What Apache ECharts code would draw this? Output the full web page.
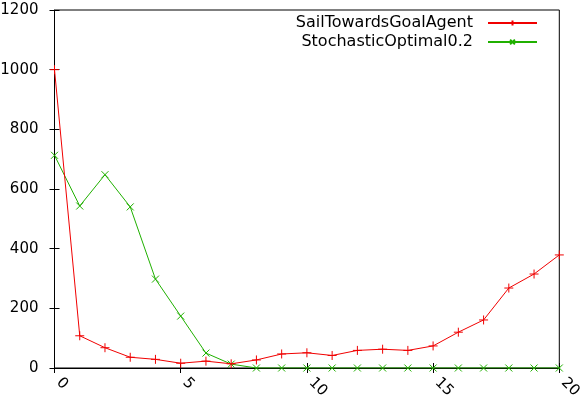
<!DOCTYPE html>
<html><head><meta charset="utf-8">
<script src="https://cdn.jsdelivr.net/npm/echarts@6/dist/echarts.min.js"></script>
<style>html,body{margin:0;padding:0;background:#fff}#c{width:581px;height:401px}</style>
</head><body><div id="c"></div>
<script>
const xValues = [0,1,2,3,4,5,6,7,8,9,10,11,12,13,14,15,16,17,18,19,20];
const sailTowardsGoalAgent = [1000,108,68,36,29,16,23,14,27,47,51,42,59,63,59,74,120,161,268,315,379];
const stochasticOptimal = [713,543,648,540,298,174,50,13,0,0,0,0,0,0,0,0,0,0,0,0,0];
const seriesNames = ['SailTowardsGoalAgent','StochasticOptimal0.2'];
const xTicks = [0,5,10,15,20];
const yTicks = [0,200,400,600,800,1000,1200];

const font = 'DejaVu Sans';
const red = '#f00000', green = '#20b000';
const pair = (ys) => xValues.map((x,i)=>[x, ys[i]]);
const plus = 'path://M0,-1L0,1M-1,0L1,0';
const cross = 'path://M-1,-1L1,1M-1,1L1,-1';

const chart = echarts.init(document.getElementById('c'));
const tickCommon = {inside:true, length:5, lineStyle:{color:'#000', width:1}};
const legendCommon = {right:43, padding:0, align:'right', itemWidth:49, itemHeight:6, itemGap:15,
  textStyle:{fontFamily:font, fontSize:16, color:'#000', padding:[0,10,0,0]}};
chart.setOption({
  animation:false,
  backgroundColor:'#fff',
  grid:{left:54.5, right:21.7, top:10, bottom:33, containLabel:false, outerBoundsMode:'none',
        show:true, borderColor:'#000', borderWidth:1, backgroundColor:'transparent'},
  legend:[
    Object.assign({data:[seriesNames[0]], top:15}, legendCommon),
    Object.assign({data:[seriesNames[1]], top:34}, legendCommon)
  ],
  xAxis:[
    {type:'value', min:0, max:20, interval:5, position:'bottom',
     axisLine:{show:true, lineStyle:{color:'#000'}}, axisTick:tickCommon, splitLine:{show:false},
     axisLabel:{rotate:-45, fontFamily:font, fontSize:15, color:'#000', margin:8, padding:[0,0,0,6],
       formatter:(v)=>String(v)}},
    {type:'value', min:0, max:20, interval:5, position:'top',
     axisLine:{show:false}, axisTick:tickCommon, splitLine:{show:false}, axisLabel:{show:false}}
  ],
  yAxis:[
    {type:'value', min:0, max:1200, interval:200, position:'left',
     axisLine:{show:true, lineStyle:{color:'#000'}}, axisTick:tickCommon, splitLine:{show:false},
     axisLabel:{fontFamily:font, fontSize:15, color:'#000', margin:16, formatter:(v)=>String(v)}},
    {type:'value', min:0, max:1200, interval:200, position:'right',
     axisLine:{show:false}, axisTick:tickCommon, splitLine:{show:false}, axisLabel:{show:false}}
  ],
  series:[
    {name:seriesNames[0], type:'line', data:pair(sailTowardsGoalAgent), symbol:plus, symbolSize:9,
     lineStyle:{color:red, width:1}, itemStyle:{color:red, borderColor:red, borderWidth:1}, z:3},
    {name:seriesNames[1], type:'line', data:pair(stochasticOptimal), symbol:cross, symbolSize:7,
     lineStyle:{color:green, width:1}, itemStyle:{color:green, borderColor:green, borderWidth:1}, z:2}
  ]
});
</script></body></html>
